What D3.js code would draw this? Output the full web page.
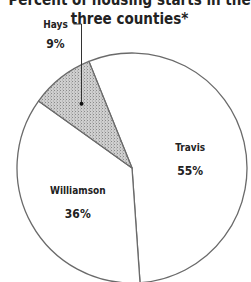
<!DOCTYPE html>
<html>
<head>
<meta charset="utf-8">
<script src="https://cdn.jsdelivr.net/npm/d3@7"></script>
<style>
  body { margin: 0; background: #fff; }
  text { font-family: "DejaVu Sans Condensed", "Liberation Sans Narrow", sans-serif; font-weight: bold; fill: #222; }
</style>
</head>
<body>
<div id="chart"></div>
<script>
// Data
const counties = ["Travis", "Williamson", "Hays"];
const shares = [55, 36, 9];
const titleLines = ["Percent of housing starts in the", "three counties*"];

const width = 251;
const height = 282;
const cx = 132, cy = 168, radius = 115;

const svg = d3.select("#chart")
  .append("svg")
  .attr("width", width)
  .attr("height", height);

// Stipple pattern for the small slice
const defs = svg.append("defs");
const pat = defs.append("pattern")
  .attr("id", "stipple")
  .attr("width", 3)
  .attr("height", 3)
  .attr("patternUnits", "userSpaceOnUse");
pat.append("rect").attr("width", 3).attr("height", 3).attr("fill", "#cfcfcf");
pat.append("rect").attr("x", 0).attr("y", 0).attr("width", 1).attr("height", 1).attr("fill", "#8a8a8a");
pat.append("rect").attr("x", 2).attr("y", 1.5).attr("width", 1).attr("height", 1).attr("fill", "#a8a8a8");

// Title (first line runs off the top, as in the original crop)
svg.selectAll(".title")
  .data(titleLines)
  .enter()
  .append("text")
  .attr("class", "title")
  .attr("x", width / 2 + 4)
  .attr("y", (d, i) => 5 + i * 19)
  .attr("text-anchor", "middle")
  .style("font-size", "15px")
  .text(d => d);

// Pie
const start = -22 * Math.PI / 180;
const pie = d3.pie()
  .sort(null)
  .startAngle(start)
  .endAngle(start + 2 * Math.PI);

const arcs = pie(shares);
const arc = d3.arc().innerRadius(0).outerRadius(radius);

const g = svg.append("g")
  .attr("transform", `translate(${cx},${cy})`);

g.selectAll("path")
  .data(arcs)
  .enter()
  .append("path")
  .attr("d", arc)
  .attr("fill", (d, i) => i === 2 ? "url(#stipple)" : "#fff")
  .attr("stroke", "#6a6a6a")
  .attr("stroke-width", 1.3)
  .attr("stroke-linejoin", "round");

// Inside labels
const labelArc = d3.arc().innerRadius(radius * 0.6).outerRadius(radius * 0.6);
const inside = [0, 1];
inside.forEach(i => {
  const [x, y] = labelArc.centroid(arcs[i]);
  const dx = i === 0 ? -9 : 6;
  const dy = i === 0 ? -1 : -8;
  g.append("text")
    .attr("x", x + dx)
    .attr("y", y + dy)
    .attr("text-anchor", "middle")
    .style("font-size", "10px")
    .text(counties[i]);
  g.append("text")
    .attr("x", x + dx)
    .attr("y", y + dy + 24)
    .attr("text-anchor", "middle")
    .style("font-size", "12px")
    .text(shares[i] + "%");
});

// Leader for the small slice
const dotArc = d3.arc().innerRadius(radius * 0.71).outerRadius(radius * 0.71);
const [hx, hy] = dotArc.centroid(arcs[2]);
const topY = 24 - cy;
g.append("path")
  .attr("d", `M${hx},${hy}V${topY}H${hx - 8}`)
  .attr("fill", "none")
  .attr("stroke", "#333")
  .attr("stroke-width", 1);
g.append("circle")
  .attr("cx", hx)
  .attr("cy", hy)
  .attr("r", 2)
  .attr("fill", "#111");

g.append("text")
  .attr("x", hx - 26)
  .attr("y", topY + 4)
  .attr("text-anchor", "middle")
  .style("font-size", "10px")
  .text(counties[2]);
g.append("text")
  .attr("x", hx - 26)
  .attr("y", topY + 24)
  .attr("text-anchor", "middle")
  .style("font-size", "12px")
  .text(shares[2] + "%");
</script>
</body>
</html>
